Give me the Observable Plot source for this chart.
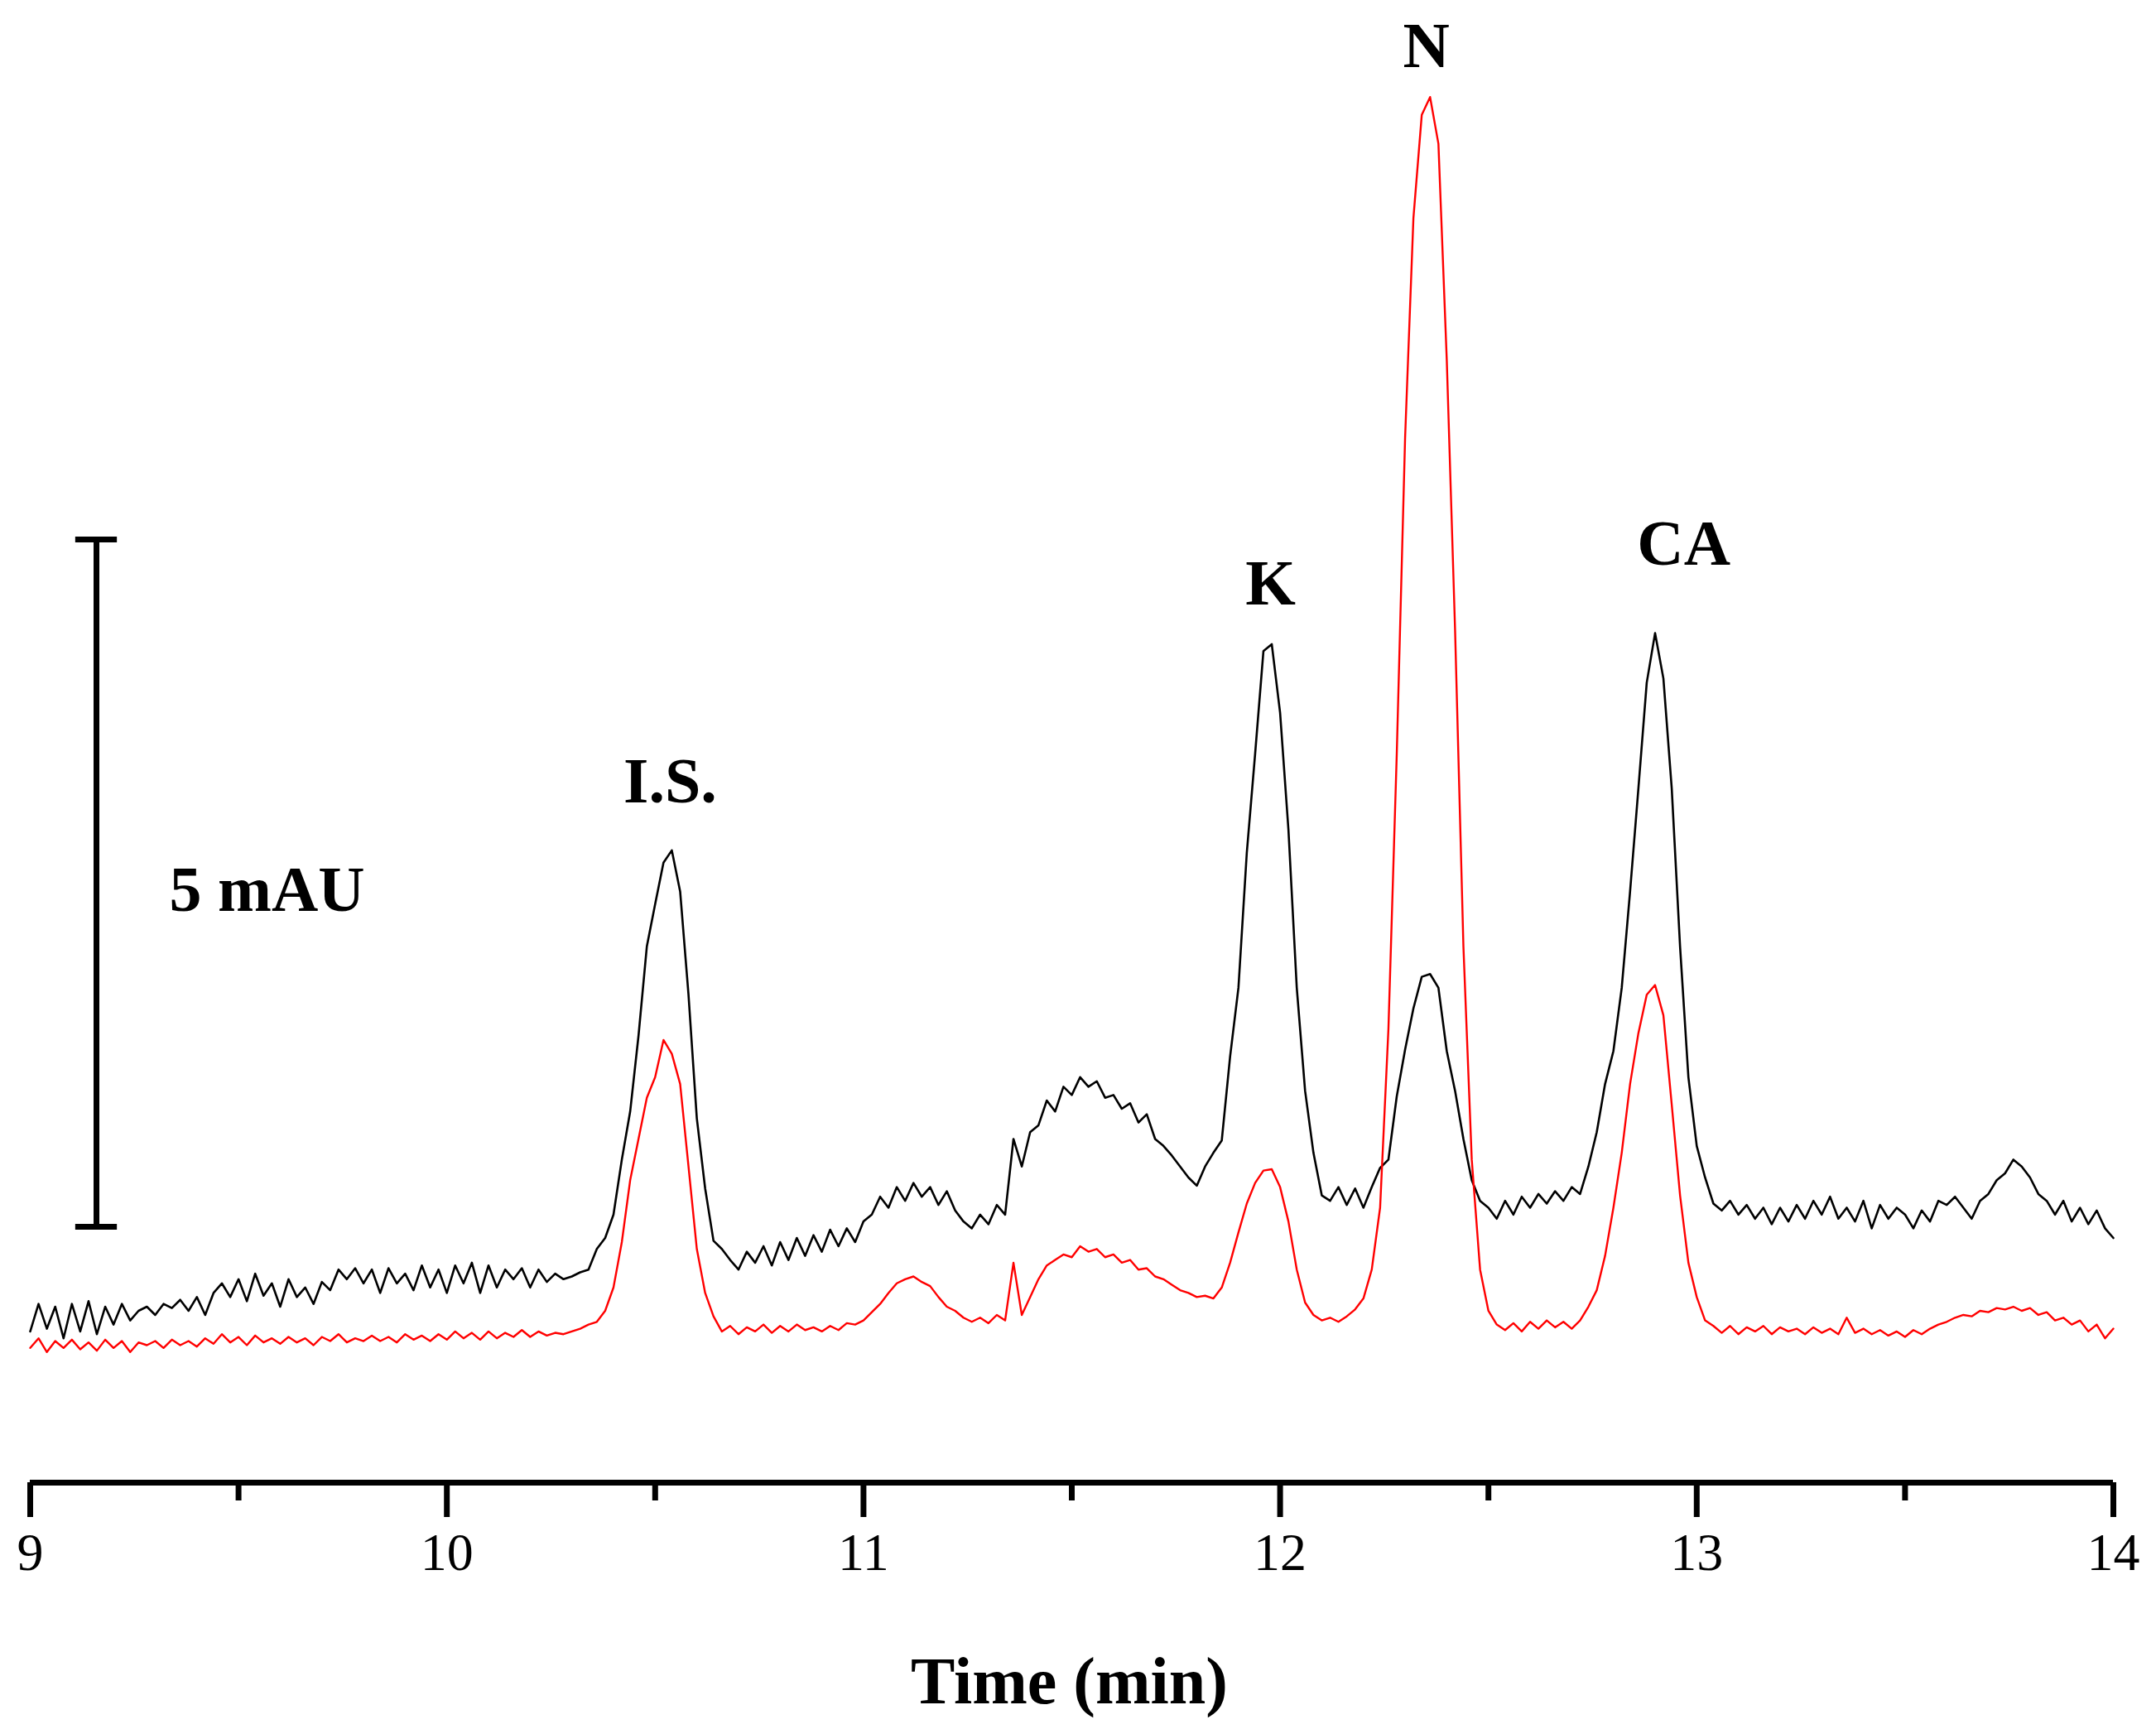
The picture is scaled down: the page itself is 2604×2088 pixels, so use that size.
<!DOCTYPE html>
<html>
<head>
<meta charset="utf-8">
<script src="https://cdn.jsdelivr.net/npm/d3@7"></script>
<script src="https://cdn.jsdelivr.net/npm/@observablehq/plot@0.6"></script>
<style>
  html, body { margin: 0; padding: 0; background: #fff; overflow: hidden; }
  #chart svg { display: block; }
</style>
</head>
<body>
<div id="chart"></div>
<script>
// Time grid (min), sampled every 0.02 min from 9 to 14
const times = d3.range(251).map(i => +(9 + i * 0.02).toFixed(2));

// Upper (black) electropherogram, mAU (rows of 0.2 min)
const blackSignal = [
  0.10,0.30,0.12,0.28,0.05,0.30,0.10,0.32,0.08,0.28,
  0.15,0.30,0.18,0.25,0.28,0.22,0.30,0.27,0.33,0.25,
  0.35,0.22,0.38,0.45,0.35,0.48,0.32,0.52,0.36,0.45,
  0.28,0.48,0.35,0.42,0.30,0.46,0.40,0.55,0.48,0.56,
  0.45,0.55,0.38,0.56,0.45,0.52,0.40,0.58,0.42,0.55,
  0.38,0.58,0.45,0.60,0.38,0.58,0.42,0.55,0.48,0.56,
  0.42,0.55,0.46,0.52,0.48,0.50,0.53,0.55,0.70,0.78,
  0.95,1.35,1.70,2.25,2.90,3.21,3.51,3.60,3.30,2.55,
  1.65,1.14,0.76,0.70,0.62,0.55,0.68,0.60,0.72,0.58,
  0.75,0.62,0.78,0.65,0.80,0.68,0.84,0.72,0.85,0.75,
  0.90,0.95,1.08,1.00,1.15,1.05,1.18,1.08,1.15,1.02,
  1.12,0.98,0.90,0.85,0.95,0.88,1.02,0.95,1.50,1.30,
  1.55,1.60,1.78,1.70,1.88,1.82,1.95,1.88,1.92,1.80,
  1.82,1.72,1.76,1.62,1.68,1.50,1.45,1.38,1.30,1.22,
  1.16,1.30,1.40,1.49,2.10,2.60,3.58,4.30,5.05,5.10,
  4.60,3.75,2.60,1.85,1.40,1.09,1.05,1.15,1.02,1.14,
  1.00,1.15,1.29,1.35,1.81,2.15,2.45,2.68,2.70,2.60,
  2.14,1.85,1.50,1.20,1.05,1.00,0.92,1.05,0.95,1.08,
  1.00,1.10,1.03,1.12,1.05,1.15,1.10,1.30,1.55,1.90,
  2.14,2.60,3.30,4.05,4.82,5.18,4.85,4.05,2.90,1.95,
  1.45,1.22,1.03,0.98,1.05,0.95,1.02,0.92,1.00,0.88,
  1.00,0.90,1.02,0.92,1.05,0.95,1.08,0.92,1.00,0.90,
  1.05,0.85,1.02,0.92,1.00,0.95,0.85,0.98,0.90,1.05,
  1.02,1.08,1.00,0.92,1.05,1.10,1.20,1.25,1.35,1.30,
  1.22,1.10,1.05,0.95,1.05,0.90,1.00,0.88,0.98,0.85,
  0.78
];

// Lower (red) electropherogram, mAU
const redSignal = [
  -0.02,0.05,-0.05,0.03,-0.02,0.04,-0.03,0.02,-0.04,0.04,
  -0.02,0.03,-0.05,0.02,0.00,0.03,-0.02,0.04,0.00,0.03,
  -0.01,0.05,0.01,0.08,0.02,0.06,0.00,0.07,0.02,0.05,
  0.01,0.06,0.02,0.05,0.00,0.06,0.03,0.08,0.02,0.05,
  0.03,0.07,0.03,0.06,0.02,0.08,0.04,0.07,0.03,0.08,
  0.04,0.10,0.05,0.09,0.04,0.10,0.05,0.09,0.06,0.11,
  0.06,0.10,0.07,0.09,0.08,0.10,0.12,0.15,0.17,0.25,
  0.42,0.75,1.20,1.50,1.80,1.95,2.22,2.12,1.90,1.30,
  0.70,0.38,0.21,0.10,0.14,0.08,0.13,0.10,0.15,0.09,
  0.14,0.10,0.15,0.11,0.13,0.10,0.14,0.11,0.16,0.15,
  0.18,0.24,0.30,0.38,0.45,0.48,0.50,0.46,0.43,0.35,
  0.28,0.25,0.20,0.17,0.20,0.16,0.22,0.18,0.60,0.22,
  0.35,0.48,0.58,0.62,0.66,0.64,0.72,0.68,0.70,0.64,
  0.66,0.60,0.62,0.55,0.56,0.50,0.48,0.44,0.40,0.38,
  0.35,0.36,0.34,0.42,0.60,0.82,1.03,1.18,1.27,1.28,
  1.15,0.90,0.55,0.31,0.22,0.18,0.20,0.17,0.21,0.26,
  0.34,0.55,1.00,2.30,4.30,6.60,8.20,8.95,9.08,8.74,
  7.17,5.20,2.90,1.35,0.55,0.25,0.15,0.11,0.16,0.10,
  0.17,0.12,0.18,0.13,0.17,0.12,0.18,0.28,0.40,0.65,
  1.00,1.40,1.90,2.27,2.55,2.62,2.40,1.75,1.09,0.60,
  0.35,0.18,0.14,0.09,0.14,0.08,0.13,0.10,0.14,0.08,
  0.13,0.10,0.12,0.08,0.13,0.09,0.12,0.08,0.20,0.09,
  0.12,0.08,0.11,0.07,0.10,0.06,0.11,0.08,0.12,0.15,
  0.17,0.20,0.22,0.21,0.25,0.24,0.27,0.26,0.28,0.25,
  0.27,0.22,0.24,0.18,0.20,0.15,0.18,0.10,0.15,0.05,
  0.12
];

// Axis ticks
const majorTicks = [9, 10, 11, 12, 13, 14];
const minorTicks = [9.5, 10.5, 11.5, 12.5, 13.5];

// Peak labels
const peakNames = ["I.S.", "K", "N", "CA"];
const peakTimes = [10.536, 11.977, 12.351, 12.969];
const peakLabelLevels = [4.10, 5.54, 9.45, 5.83];

// Scale bar: 5 mAU
const scaleBarTime = [9.159];
const scaleBarFrom = [0.861];
const scaleBarTo = [5.861];
const scaleBarLabel = ["5 mAU"];
const scaleBarLabelTime = [9.334];
const scaleBarLabelLevel = [3.307];

const xLabel = ["Time (min)"];
const xLabelTime = [11.494];
const xLabelLevel = [-2.452];

const blackRows = times.map((t, i) => ({t, v: blackSignal[i]}));
const redRows = times.map((t, i) => ({t, v: redSignal[i]}));
const peaks = peakNames.map((name, i) => ({name, t: peakTimes[i], v: peakLabelLevels[i]}));
const bar = scaleBarTime.map((t, i) => ({t, from: scaleBarFrom[i], to: scaleBarTo[i]}));
const barCaps = [
  {t1: scaleBarTime[0] - 0.05, t2: scaleBarTime[0] + 0.05, v: scaleBarFrom[0]},
  {t1: scaleBarTime[0] - 0.05, t2: scaleBarTime[0] + 0.05, v: scaleBarTo[0]}
];

const serif = "'Liberation Serif', 'Times New Roman', serif";

const chart = Plot.plot({
  width: 2604,
  height: 2088,
  marginLeft: 36,
  marginRight: 52,
  marginTop: 0,
  marginBottom: 298,
  style: {fontFamily: serif, background: "#fff", color: "#000", overflow: "visible"},
  x: {domain: [9, 14]},
  y: {domain: [-1, 9.783], axis: null},
  marks: [
    Plot.ruleY([-1], {stroke: "#000", strokeWidth: 7}),
    Plot.axisX(majorTicks, {
      tickSize: 42, tickPadding: 18, strokeWidth: 7, fontSize: 64,
      fontFamily: serif, label: null, tickFormat: d => String(d)
    }),
    Plot.axisX(minorTicks, {
      tickSize: 22, strokeWidth: 7, tickFormat: () => "", label: null
    }),
    Plot.line(blackRows, {x: "t", y: "v", stroke: "#000", strokeWidth: 2.6}),
    Plot.line(redRows, {x: "t", y: "v", stroke: "#ff0000", strokeWidth: 2.4}),
    Plot.ruleX(bar, {x: "t", y1: "from", y2: "to", stroke: "#000", strokeWidth: 7}),
    Plot.ruleY(barCaps, {y: "v", x1: "t1", x2: "t2", stroke: "#000", strokeWidth: 7}),
    Plot.text(scaleBarLabel, {
      x: () => scaleBarLabelTime[0], y: () => scaleBarLabelLevel[0], text: d => d,
      textAnchor: "start", lineAnchor: "middle", fontSize: 78, fontWeight: "bold", fontFamily: serif, fill: "#000"
    }),
    Plot.text(peaks, {
      x: "t", y: "v", text: "name", textAnchor: "middle", lineAnchor: "middle",
      fontSize: 78, fontWeight: "bold", fontFamily: serif, fill: "#000"
    }),
    Plot.text(xLabel, {
      x: () => xLabelTime[0], y: () => xLabelLevel[0], text: d => d,
      textAnchor: "middle", lineAnchor: "middle", fontSize: 80, fontWeight: "bold", fontFamily: serif, fill: "#000"
    })
  ]
});

document.getElementById("chart").appendChild(chart);
</script>
</body>
</html>
